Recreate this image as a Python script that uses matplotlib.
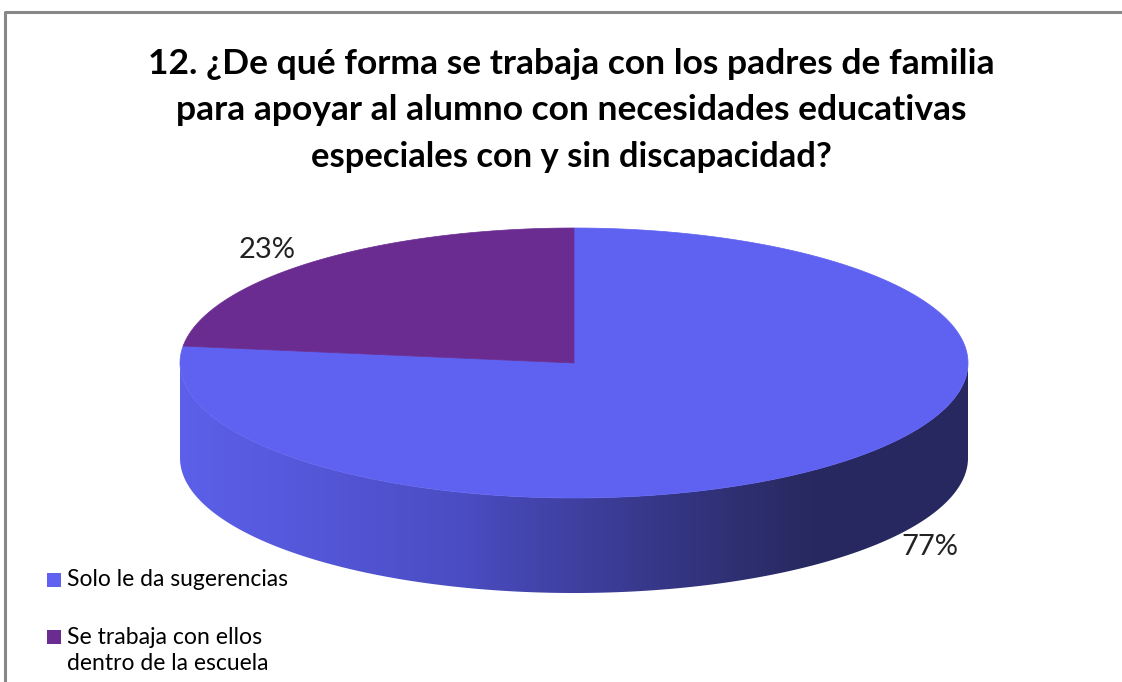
import numpy as np
import matplotlib
matplotlib.use('Agg')
import matplotlib.pyplot as plt
from matplotlib.patches import Polygon, Rectangle
from matplotlib.colors import LinearSegmentedColormap

# ---- data ----
categories = ["Solo le da sugerencias", "Se trabaja con ellos\ndentro de la escuela"]
values = [77, 23]
pct_labels = ["77%", "23%"]
title_lines = ["12. ¿De qué forma se trabaja con los padres de familia",
               "para apoyar al alumno con necesidades educativas",
               "especiales con y sin discapacidad?"]

# ---- style ----
top_colors = ["#5f61f1", "#6a2c91"]
side_stops = [(0.0, "#5c60ea"), (0.35, "#4b4dc4"), (0.50, "#3f40a0"),
              (0.66, "#32337c"), (0.80, "#28295f"), (1.0, "#262860")]
FONT = "Lato"

W, H = 1122, 682
fig = plt.figure(figsize=(W / 100, H / 100), dpi=100)
ax = fig.add_axes([0, 0, 1, 1])
ax.set_xlim(0, W)
ax.set_ylim(H, 0)
ax.axis('off')
renderer = fig.canvas.get_renderer()


def fit_text(x, y, s, target_w, **kw):
    t = ax.text(x, y, s, fontsize=20, **kw)
    w = t.get_window_extent(renderer).width
    t.set_fontsize(20 * target_w / w)
    return t


# border
ax.plot([5, 5, W + 5], [H + 5, 12, 12], color="#878787", lw=2.2, solid_capstyle='butt')

# title
for (yy, line, tw) in zip([64, 110, 157], title_lines, [845, 790, 520]):
    fit_text(571, yy, line, tw, ha='center', va='center', fontweight='bold',
             family=FONT, color='black')

# pie geometry (pixels)
cx, cy, rx, ry, depth = 574, 363, 394, 135, 95


def ell(t_deg, dy=0):
    t = np.radians(t_deg)
    return np.column_stack([cx + rx * np.cos(t), cy - ry * np.sin(t) + dy])


# side (front half)
ts = np.linspace(180, 360, 300)
side = np.vstack([ell(ts), ell(ts[::-1], depth)])
side_patch = Polygon(side, closed=True, facecolor='none', edgecolor='none')
ax.add_patch(side_patch)
cmap = LinearSegmentedColormap.from_list("side", side_stops)
grad = np.linspace(0, 1, 512)[None, :]
im = ax.imshow(grad, cmap=cmap, aspect='auto',
               extent=(cx - rx, cx + rx, cy + ry + depth + 2, cy - 2),
               interpolation='bicubic', zorder=1)
im.set_clip_path(side_patch)

# top slices, clockwise from 90 degrees
total = sum(values)
start = 90.0
for v, c in zip(values, top_colors):
    sweep = 360.0 * v / total
    tt = np.linspace(start, start - sweep, 400)
    poly = np.vstack([[cx, cy], ell(tt)])
    ax.add_patch(Polygon(poly, closed=True, facecolor=c, edgecolor=c, lw=0.5, zorder=2))
    start -= sweep

# percentage labels
fit_text(930, 547, pct_labels[0], 57, family=FONT, color='#222222',
         ha='center', va='center')
fit_text(267, 250, pct_labels[1], 57, family=FONT, color='#222222',
         ha='center', va='center')

# legend
leg_y = [580, 637]
leg_w = [[221], [195, 202]]
for c, lab, yy, ws in zip(top_colors, categories, leg_y, leg_w):
    ax.add_patch(Rectangle((47, yy - 7), 14, 14, facecolor=c, edgecolor='none'))
    for k, (sub, tw) in enumerate(zip(lab.split("\n"), ws)):
        fit_text(67, yy + k * 27, sub, tw, family=FONT, color='black',
                 ha='left', va='center')

fig.savefig("out.png", dpi=100)
